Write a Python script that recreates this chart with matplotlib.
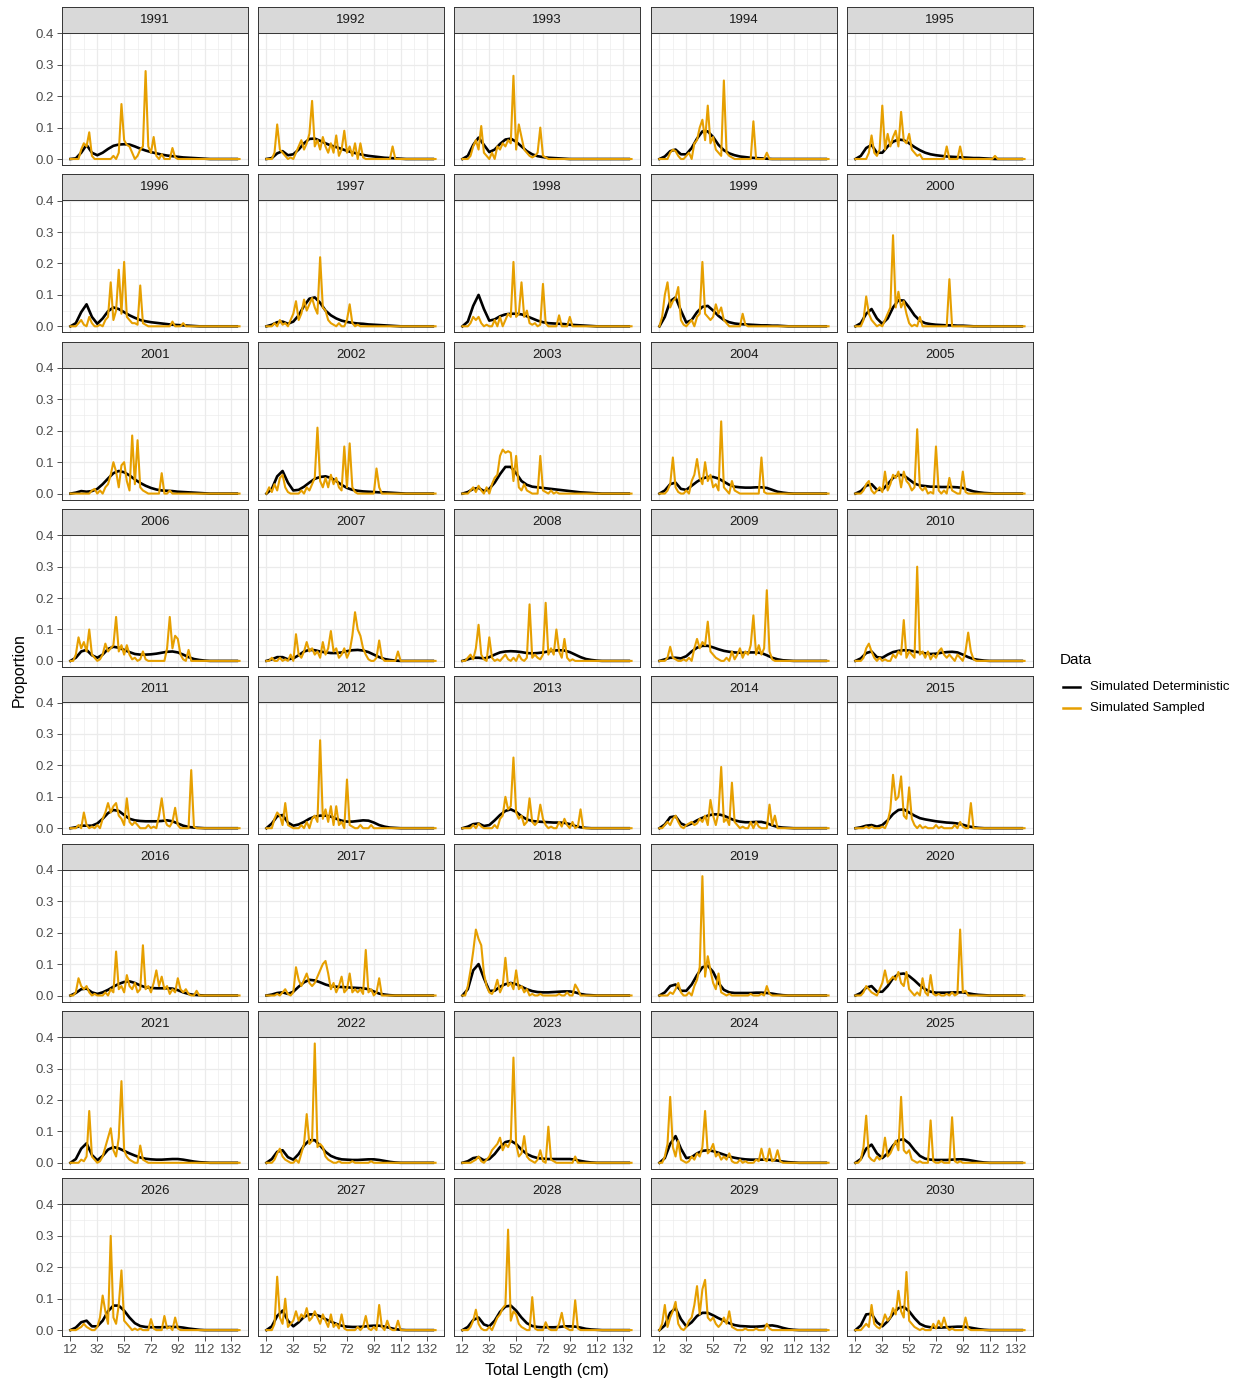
import matplotlib

matplotlib.use("Agg")
import matplotlib.pyplot as plt
from matplotlib.lines import Line2D

plt.rcParams["font.family"] = ["Liberation Sans", "DejaVu Sans"]

YEARS = list(range(1991, 2031))

# deterministic curve, proportion in thousandths on a 4 cm grid from 12 cm
DET_X = list(range(12, 137, 4))
DET = {
    1991: [0, 2, 20, 45, 20, 12, 20, 32, 42, 46, 47, 46, 40, 33, 27, 22, 18, 14, 11, 9, 7, 5, 4, 3, 2, 1],
    1992: [0, 3, 18, 25, 12, 15, 30, 50, 64, 65, 58, 50, 43, 38, 32, 26, 21, 17, 13, 10, 8, 6, 4, 3, 2, 1],
    1993: [0, 10, 45, 68, 45, 22, 30, 48, 62, 65, 55, 40, 25, 15, 9, 6, 4, 3, 2, 1],
    1994: [0, 8, 25, 30, 15, 15, 35, 65, 88, 88, 70, 45, 28, 18, 12, 8, 6, 4, 3, 2, 1],
    1995: [0, 10, 35, 45, 20, 20, 40, 55, 62, 60, 50, 38, 28, 20, 15, 12, 10, 8, 7, 6, 5, 4, 3, 3, 2, 1],
    1996: [0, 10, 45, 70, 30, 8, 25, 48, 60, 55, 45, 35, 27, 20, 16, 13, 11, 9, 7, 5, 4, 3, 2, 1],
    1997: [0, 5, 13, 15, 8, 15, 35, 65, 88, 92, 75, 50, 35, 25, 18, 14, 11, 9, 8, 6, 5, 4, 3, 2, 1],
    1998: [0, 15, 65, 100, 55, 18, 22, 32, 38, 40, 40, 38, 32, 25, 18, 13, 10, 9, 8, 7, 5, 4, 3, 2, 1],
    1999: [0, 30, 80, 92, 50, 12, 20, 45, 62, 65, 50, 33, 20, 13, 9, 7, 6, 5, 4, 3, 3, 2, 2, 1],
    2000: [0, 10, 40, 55, 25, 8, 25, 60, 83, 82, 60, 35, 18, 10, 7, 5, 4, 3, 3, 2, 2, 1],
    2001: [0, 3, 8, 6, 8, 15, 30, 48, 65, 72, 68, 58, 45, 34, 25, 18, 13, 10, 9, 8, 6, 5, 4, 3, 2, 1],
    2002: [0, 15, 55, 72, 35, 10, 12, 22, 35, 47, 53, 55, 50, 40, 28, 18, 12, 9, 7, 6, 5, 4, 4, 3, 2, 1],
    2003: [0, 5, 15, 18, 8, 15, 35, 62, 85, 85, 65, 40, 28, 22, 20, 18, 16, 14, 12, 10, 8, 6, 4, 3, 2, 1],
    2004: [0, 10, 30, 35, 15, 12, 25, 38, 48, 53, 53, 48, 38, 28, 22, 20, 19, 19, 20, 20, 18, 12, 6, 3, 1],
    2005: [0, 8, 25, 30, 12, 12, 30, 50, 60, 58, 45, 32, 26, 24, 22, 22, 21, 21, 21, 20, 18, 12, 7, 4, 2, 1],
    2006: [0, 10, 30, 35, 18, 10, 20, 38, 45, 42, 35, 28, 22, 20, 20, 21, 23, 26, 29, 30, 27, 20, 12, 6, 3, 1],
    2007: [0, 5, 12, 12, 5, 8, 18, 30, 35, 34, 30, 27, 25, 25, 27, 31, 34, 35, 33, 28, 20, 12, 6, 3, 1],
    2008: [0, 5, 10, 10, 8, 12, 20, 27, 30, 31, 30, 28, 25, 24, 25, 27, 30, 33, 34, 33, 28, 20, 12, 6, 3, 1],
    2009: [0, 5, 10, 10, 8, 15, 30, 42, 48, 48, 43, 37, 32, 29, 27, 26, 26, 27, 27, 25, 18, 10, 5, 2, 1],
    2010: [0, 8, 25, 30, 12, 10, 20, 28, 32, 34, 33, 30, 27, 24, 22, 23, 26, 28, 29, 27, 20, 12, 6, 3, 1],
    2011: [0, 3, 8, 8, 8, 15, 30, 48, 58, 55, 42, 30, 25, 23, 22, 22, 22, 23, 25, 22, 15, 8, 4, 2, 1],
    2012: [0, 15, 38, 42, 18, 8, 12, 20, 30, 37, 40, 40, 37, 30, 24, 21, 21, 23, 25, 24, 18, 10, 5, 2, 1],
    2013: [0, 5, 13, 15, 7, 10, 25, 42, 55, 60, 52, 38, 28, 23, 21, 20, 19, 18, 18, 17, 13, 7, 3, 1],
    2014: [0, 12, 35, 38, 15, 8, 15, 25, 33, 40, 44, 44, 40, 32, 25, 21, 19, 19, 20, 20, 16, 9, 4, 2, 1],
    2015: [0, 3, 8, 10, 5, 10, 25, 45, 58, 60, 50, 40, 32, 28, 25, 22, 20, 18, 17, 15, 11, 6, 3, 1],
    2016: [0, 8, 20, 22, 10, 5, 10, 18, 28, 37, 43, 45, 40, 32, 26, 24, 23, 23, 23, 22, 17, 10, 5, 2, 1],
    2017: [0, 3, 8, 10, 5, 12, 28, 42, 50, 48, 42, 35, 30, 28, 27, 26, 25, 24, 23, 20, 13, 6, 3, 1],
    2018: [0, 20, 80, 100, 55, 15, 15, 28, 36, 40, 36, 28, 20, 14, 11, 10, 10, 11, 12, 13, 13, 10, 5, 2, 1],
    2019: [0, 10, 30, 35, 15, 15, 35, 65, 90, 95, 75, 40, 18, 10, 8, 8, 8, 8, 9, 9, 8, 6, 3, 1],
    2020: [0, 8, 25, 30, 12, 12, 30, 55, 68, 70, 62, 48, 32, 20, 12, 9, 9, 9, 10, 10, 10, 7, 4, 2, 1],
    2021: [0, 12, 45, 62, 25, 8, 22, 42, 50, 46, 38, 30, 23, 17, 13, 11, 10, 10, 11, 12, 12, 10, 7, 4, 2, 1],
    2022: [0, 12, 35, 40, 18, 10, 28, 55, 72, 72, 55, 35, 22, 15, 11, 10, 9, 9, 10, 11, 11, 9, 6, 3, 1],
    2023: [0, 5, 15, 18, 8, 12, 28, 50, 66, 70, 60, 42, 28, 20, 15, 13, 12, 12, 12, 12, 12, 10, 6, 3, 1],
    2024: [0, 15, 60, 85, 45, 15, 18, 30, 38, 40, 37, 32, 26, 20, 16, 13, 11, 10, 10, 10, 10, 9, 7, 4, 2, 1],
    2025: [0, 12, 45, 58, 30, 15, 30, 55, 72, 75, 62, 40, 22, 13, 10, 9, 9, 9, 10, 11, 11, 9, 6, 3, 1],
    2026: [0, 8, 25, 30, 12, 12, 30, 60, 78, 78, 62, 40, 22, 13, 10, 9, 9, 9, 10, 10, 10, 8, 5, 3, 1],
    2027: [0, 12, 45, 62, 30, 12, 25, 42, 50, 50, 44, 35, 27, 20, 14, 11, 10, 10, 11, 13, 14, 14, 11, 7, 3, 1],
    2028: [0, 10, 32, 40, 18, 12, 30, 58, 75, 78, 62, 40, 22, 13, 10, 9, 9, 9, 10, 12, 12, 11, 8, 4, 2, 1],
    2029: [0, 15, 55, 70, 35, 12, 25, 45, 55, 55, 47, 38, 30, 22, 16, 13, 12, 11, 11, 12, 14, 15, 12, 7, 3, 1],
    2030: [0, 15, 50, 52, 25, 12, 28, 52, 70, 74, 60, 38, 20, 12, 9, 8, 8, 9, 10, 11, 11, 9, 6, 3, 1],
}

# sampled proportions (thousandths) per 2 cm bin; bins not listed are empty
SAMP_X = list(range(12, 139, 2))
SAMP = {
    1991: {20: 30, 22: 50, 24: 40, 26: 85, 28: 10, 44: 10, 48: 20, 50: 175, 52: 60, 54: 45, 56: 40, 58: 20,
           62: 10, 64: 30, 66: 40, 68: 280, 70: 40, 72: 20, 74: 70, 76: 10, 80: 15, 88: 35, 90: 5},
    1992: {18: 20, 20: 110, 22: 30, 24: 20, 26: 10, 30: 5, 34: 20, 36: 40, 38: 60, 40: 30, 42: 50, 44: 80,
           46: 185, 48: 40, 50: 60, 52: 30, 54: 70, 56: 40, 58: 20, 60: 50, 62: 20, 64: 75, 66: 10, 68: 30,
           70: 90, 72: 20, 74: 40, 76: 10, 78: 50, 82: 50, 84: 5, 106: 40},
    1993: {18: 10, 20: 40, 22: 60, 24: 30, 26: 105, 28: 20, 30: 10, 34: 20, 38: 40, 40: 30, 42: 50, 44: 40,
           46: 60, 48: 50, 50: 265, 52: 30, 54: 110, 56: 70, 58: 30, 60: 20, 62: 10, 64: 5, 66: 10, 68: 20,
           70: 100, 72: 10, 74: 5},
    1994: {20: 20, 22: 30, 24: 25, 26: 10, 32: 10, 34: 20, 38: 50, 40: 60, 42: 100, 44: 125, 46: 60,
           48: 170, 50: 50, 52: 70, 54: 30, 56: 20, 58: 10, 60: 250, 62: 20, 64: 10, 66: 5, 82: 120, 92: 20},
    1995: {22: 20, 24: 75, 26: 20, 28: 10, 30: 30, 32: 170, 34: 30, 36: 80, 38: 40, 40: 70, 42: 90, 44: 40,
           46: 150, 48: 60, 50: 50, 52: 80, 54: 30, 56: 20, 58: 10, 60: 15, 80: 40, 90: 40, 116: 10},
    1996: {18: 10, 20: 20, 22: 5, 26: 30, 28: 10, 34: 5, 38: 20, 40: 30, 42: 140, 44: 20, 46: 50, 48: 180,
           50: 40, 52: 205, 54: 30, 56: 20, 58: 10, 60: 10, 62: 5, 64: 130, 66: 10, 68: 5, 88: 15, 96: 10},
    1997: {18: 10, 22: 20, 24: 5, 26: 10, 30: 20, 32: 40, 34: 80, 36: 20, 38: 40, 40: 85, 42: 50, 44: 70,
           46: 90, 48: 60, 50: 40, 52: 220, 54: 60, 56: 50, 58: 20, 60: 10, 62: 5, 66: 10, 72: 20, 74: 70,
           76: 10, 80: 5},
    1998: {18: 10, 20: 30, 22: 20, 24: 30, 26: 10, 30: 5, 36: 20, 40: 30, 44: 20, 46: 40, 48: 30, 50: 205,
           52: 30, 54: 40, 56: 140, 58: 30, 60: 50, 62: 10, 64: 5, 66: 10, 70: 5, 72: 135, 74: 10, 84: 35,
           92: 30},
    1999: {14: 30, 16: 100, 18: 140, 20: 60, 22: 80, 24: 90, 26: 125, 28: 20, 30: 5, 34: 10, 36: 20, 40: 30,
           42: 40, 44: 205, 46: 40, 48: 30, 50: 20, 52: 30, 54: 70, 56: 40, 58: 60, 60: 20, 62: 10, 74: 40,
           76: 5},
    2000: {18: 20, 20: 95, 22: 40, 24: 20, 26: 10, 30: 5, 34: 20, 36: 40, 38: 60, 40: 290, 42: 60, 44: 110,
           46: 60, 48: 80, 50: 40, 52: 10, 56: 5, 60: 30, 82: 150},
    2001: {28: 10, 30: 15, 34: 10, 38: 20, 40: 30, 42: 60, 44: 100, 46: 70, 48: 20, 50: 90, 52: 100, 54: 40,
           56: 10, 58: 185, 60: 30, 62: 170, 64: 20, 66: 10, 68: 5, 80: 65, 86: 10},
    2002: {14: 20, 16: 5, 18: 30, 20: 10, 22: 50, 24: 60, 26: 20, 28: 5, 38: 10, 42: 20, 44: 10, 46: 30,
           48: 50, 50: 210, 52: 40, 54: 20, 56: 50, 58: 20, 60: 60, 62: 30, 64: 50, 66: 20, 68: 10, 70: 150,
           72: 20, 74: 160, 76: 20, 78: 5, 94: 80, 96: 20},
    2003: {18: 10, 20: 20, 22: 5, 24: 25, 26: 10, 30: 20, 34: 30, 36: 50, 38: 60, 40: 120, 42: 140, 44: 130,
           46: 135, 48: 130, 50: 40, 52: 120, 54: 20, 56: 10, 58: 30, 60: 10, 62: 5, 70: 120, 72: 10, 74: 5,
           78: 10, 82: 5},
    2004: {18: 10, 20: 30, 22: 115, 24: 20, 26: 5, 32: 10, 36: 40, 38: 60, 40: 110, 42: 50, 44: 30, 46: 100,
           48: 40, 50: 60, 52: 20, 54: 30, 56: 10, 58: 230, 60: 20, 62: 10, 66: 40, 68: 10, 70: 5, 88: 115,
           90: 5},
    2005: {18: 10, 20: 30, 22: 40, 24: 10, 28: 10, 30: 20, 32: 5, 34: 70, 36: 10, 38: 30, 40: 60, 42: 50,
           44: 70, 46: 20, 48: 70, 50: 40, 52: 30, 54: 10, 56: 20, 58: 205, 60: 20, 62: 10, 64: 20, 68: 5,
           72: 150, 74: 10, 78: 10, 82: 50, 84: 10, 86: 5, 92: 70, 94: 5},
    2006: {16: 20, 18: 75, 20: 40, 22: 60, 24: 30, 26: 100, 28: 20, 30: 10, 34: 5, 36: 20, 38: 55, 40: 30,
           42: 40, 44: 50, 46: 140, 48: 30, 50: 50, 52: 20, 54: 50, 56: 20, 58: 5, 60: 10, 64: 5, 66: 30,
           68: 5, 84: 40, 86: 140, 88: 40, 90: 80, 92: 70, 94: 20, 96: 5, 100: 35},
    2007: {16: 10, 22: 10, 26: 5, 30: 20, 34: 85, 36: 20, 38: 10, 40: 30, 42: 60, 44: 30, 46: 40, 48: 20,
           50: 30, 52: 10, 54: 60, 56: 20, 58: 40, 60: 95, 62: 30, 64: 40, 66: 10, 68: 20, 70: 40, 72: 10,
           74: 30, 76: 80, 78: 155, 80: 100, 82: 80, 84: 40, 86: 20, 88: 5, 94: 10, 96: 65, 98: 10, 110: 30},
    2008: {16: 10, 18: 20, 20: 5, 22: 40, 24: 115, 26: 20, 28: 5, 32: 75, 34: 10, 38: 5, 42: 10, 44: 20,
           46: 5, 50: 10, 54: 20, 56: 5, 60: 10, 62: 180, 64: 10, 66: 20, 68: 10, 70: 5, 72: 20, 74: 185,
           76: 20, 78: 40, 80: 20, 82: 100, 84: 30, 86: 10, 88: 70, 90: 10, 94: 5},
    2009: {18: 10, 20: 45, 22: 10, 24: 5, 30: 5, 34: 10, 38: 40, 40: 70, 42: 40, 44: 60, 46: 50, 48: 125,
           50: 30, 52: 20, 54: 10, 56: 5, 62: 10, 66: 30, 68: 5, 70: 20, 72: 40, 74: 10, 76: 30, 78: 20,
           80: 50, 82: 145, 84: 20, 86: 50, 88: 20, 90: 40, 92: 225, 94: 30, 96: 5},
    2010: {18: 10, 20: 40, 22: 55, 24: 30, 26: 10, 30: 10, 34: 5, 40: 20, 42: 10, 44: 30, 46: 20, 48: 130,
           50: 10, 52: 30, 54: 20, 56: 10, 58: 300, 60: 20, 62: 30, 64: 10, 66: 30, 68: 5, 70: 20, 72: 10,
           74: 30, 76: 40, 78: 20, 80: 10, 82: 20, 84: 10, 88: 20, 90: 10, 94: 30, 96: 90, 98: 30, 100: 5},
    2011: {18: 10, 22: 50, 24: 10, 28: 5, 32: 10, 36: 30, 38: 50, 40: 80, 42: 50, 44: 70, 46: 80, 48: 40,
           50: 30, 52: 10, 54: 95, 56: 20, 58: 10, 60: 20, 62: 10, 70: 10, 74: 5, 78: 40, 80: 95, 82: 30,
           84: 10, 86: 5, 88: 20, 90: 65, 92: 10, 102: 185, 104: 5},
    2012: {18: 30, 20: 50, 22: 40, 24: 10, 26: 80, 28: 10, 30: 5, 38: 10, 42: 20, 46: 30, 48: 40, 50: 20,
           52: 280, 54: 30, 56: 60, 58: 20, 60: 70, 62: 10, 64: 70, 66: 10, 68: 20, 72: 155, 74: 10, 76: 5,
           82: 10, 90: 10},
    2013: {20: 10, 24: 15, 26: 5, 36: 10, 40: 30, 42: 40, 44: 100, 46: 60, 48: 70, 50: 225, 52: 50, 54: 30,
           56: 40, 58: 10, 60: 20, 62: 95, 64: 20, 66: 10, 68: 20, 70: 75, 72: 30, 74: 10, 78: 5, 84: 20,
           86: 5, 88: 30, 90: 10, 94: 20, 98: 5, 100: 60},
    2014: {16: 10, 18: 20, 20: 10, 22: 30, 24: 40, 26: 20, 28: 5, 32: 10, 34: 15, 36: 20, 38: 10, 40: 15,
           42: 30, 44: 20, 46: 40, 48: 10, 50: 90, 52: 40, 54: 10, 56: 50, 58: 195, 60: 20, 62: 30, 64: 10,
           66: 145, 68: 20, 70: 10, 74: 5, 80: 20, 84: 20, 86: 5, 94: 75, 96: 10, 98: 40},
    2015: {20: 5, 24: 5, 32: 5, 36: 20, 38: 60, 40: 170, 42: 90, 44: 100, 46: 165, 48: 40, 50: 30, 52: 130,
           54: 30, 56: 10, 60: 10, 64: 5, 72: 10, 76: 5, 86: 10, 90: 20, 92: 5, 98: 80},
    2016: {16: 10, 18: 55, 20: 30, 22: 20, 24: 30, 26: 10, 30: 5, 38: 10, 42: 20, 44: 10, 46: 140, 48: 20,
           50: 30, 52: 10, 54: 65, 56: 30, 58: 20, 60: 40, 62: 10, 64: 20, 66: 160, 68: 20, 70: 30, 72: 10,
           74: 40, 76: 80, 78: 30, 80: 60, 82: 20, 84: 30, 86: 5, 88: 20, 90: 10, 92: 55, 94: 20, 96: 10,
           98: 20, 100: 5, 106: 15},
    2017: {20: 5, 24: 10, 26: 20, 28: 5, 32: 10, 34: 90, 36: 50, 38: 30, 40: 50, 42: 70, 44: 40, 46: 30,
           48: 40, 50: 60, 52: 80, 54: 100, 56: 110, 58: 70, 60: 20, 62: 40, 64: 10, 66: 30, 68: 60, 70: 10,
           72: 20, 74: 70, 76: 10, 78: 20, 80: 10, 82: 20, 84: 5, 86: 145, 88: 10, 90: 20, 94: 10, 96: 55},
    2018: {16: 30, 18: 80, 20: 140, 22: 210, 24: 180, 26: 160, 28: 70, 30: 30, 32: 10, 34: 5, 36: 20,
           38: 50, 40: 10, 42: 30, 44: 120, 46: 30, 48: 40, 50: 20, 52: 80, 54: 20, 56: 30, 58: 10, 60: 20,
           64: 5, 70: 5, 84: 5, 90: 10, 96: 35, 98: 20},
    2019: {20: 10, 22: 5, 24: 20, 26: 40, 28: 10, 34: 10, 38: 30, 40: 50, 42: 90, 44: 380, 46: 60, 48: 125,
           50: 80, 52: 40, 54: 20, 56: 70, 58: 10, 60: 5, 64: 5, 80: 5, 88: 5, 92: 30, 94: 5},
    2020: {18: 10, 20: 30, 22: 20, 24: 10, 26: 5, 30: 20, 32: 40, 34: 80, 36: 40, 38: 50, 40: 60, 42: 50,
           44: 75, 46: 40, 48: 30, 50: 75, 52: 20, 54: 10, 58: 10, 62: 55, 64: 10, 68: 65, 70: 5, 74: 5,
           80: 5, 84: 10, 88: 5, 90: 210, 92: 10, 94: 15},
    2021: {20: 10, 22: 5, 24: 20, 26: 165, 28: 20, 30: 10, 34: 5, 36: 20, 38: 50, 40: 80, 42: 110, 44: 40,
           46: 20, 48: 80, 50: 260, 52: 40, 54: 20, 56: 10, 58: 5, 64: 55, 66: 10, 68: 5},
    2022: {18: 10, 20: 30, 22: 45, 24: 20, 26: 10, 28: 5, 34: 10, 38: 30, 40: 60, 42: 155, 44: 60, 46: 70,
           48: 380, 50: 50, 52: 60, 54: 50, 56: 20, 58: 10, 60: 5, 66: 5, 76: 5, 90: 5},
    2023: {20: 5, 22: 10, 24: 20, 26: 5, 30: 10, 32: 20, 34: 40, 36: 50, 38: 60, 40: 80, 42: 40, 44: 60,
           46: 50, 48: 70, 50: 335, 52: 60, 54: 20, 56: 30, 58: 85, 60: 20, 62: 10, 64: 5, 68: 10, 70: 40,
           72: 5, 76: 115, 78: 10, 80: 5, 96: 20},
    2024: {16: 20, 18: 60, 20: 210, 22: 50, 24: 20, 26: 70, 28: 10, 30: 5, 34: 5, 36: 20, 38: 10, 40: 30,
           42: 20, 44: 50, 46: 165, 48: 30, 50: 40, 52: 60, 54: 20, 56: 30, 58: 10, 60: 20, 62: 10, 64: 30,
           66: 5, 72: 10, 76: 5, 84: 10, 86: 5, 88: 45, 90: 10, 92: 5, 94: 45, 96: 5, 98: 10, 100: 40,
           102: 5},
    2025: {16: 10, 18: 50, 20: 150, 22: 20, 24: 10, 26: 5, 28: 20, 30: 10, 32: 20, 34: 80, 36: 20, 38: 30,
           40: 50, 42: 70, 44: 40, 46: 210, 48: 40, 50: 30, 52: 40, 54: 10, 56: 5, 60: 5, 68: 135, 70: 5,
           76: 5, 84: 145, 86: 5, 90: 5},
    2026: {18: 5, 20: 10, 22: 20, 24: 10, 26: 5, 32: 10, 34: 40, 36: 110, 38: 60, 40: 20, 42: 300, 44: 40,
           46: 20, 48: 80, 50: 190, 52: 30, 54: 20, 56: 10, 60: 5, 64: 5, 72: 35, 74: 5, 82: 45, 84: 5,
           86: 10, 90: 40, 92: 5},
    2027: {18: 20, 20: 170, 22: 40, 24: 20, 26: 100, 28: 10, 30: 20, 32: 30, 34: 60, 36: 30, 38: 50, 40: 40,
           42: 70, 44: 30, 46: 40, 48: 60, 50: 40, 52: 20, 54: 50, 56: 30, 58: 10, 60: 50, 62: 10, 64: 20,
           66: 5, 68: 50, 70: 5, 80: 10, 84: 10, 86: 45, 88: 5, 92: 10, 96: 80, 98: 10, 102: 30, 104: 5,
           110: 30},
    2028: {18: 10, 20: 30, 22: 65, 24: 20, 26: 5, 32: 10, 36: 20, 38: 40, 40: 50, 42: 70, 44: 80, 46: 320,
           48: 30, 50: 60, 52: 50, 54: 20, 56: 10, 58: 5, 64: 105, 66: 5, 74: 25, 76: 5, 84: 20, 86: 55,
           88: 10, 90: 5, 96: 95, 98: 5},
    2029: {14: 20, 16: 80, 18: 10, 20: 40, 22: 60, 24: 90, 26: 20, 28: 5, 32: 10, 34: 30, 36: 40, 38: 80,
           40: 140, 42: 50, 44: 130, 46: 160, 48: 40, 50: 30, 52: 40, 54: 20, 56: 10, 58: 20, 60: 40, 62: 20,
           64: 60, 66: 10, 68: 5, 76: 5, 84: 5, 92: 20, 94: 5},
    2030: {18: 10, 20: 20, 22: 10, 24: 80, 26: 20, 28: 10, 30: 5, 32: 20, 34: 50, 36: 30, 38: 40, 40: 70,
           42: 50, 44: 125, 46: 60, 48: 40, 50: 185, 52: 30, 54: 20, 56: 10, 58: 5, 62: 5, 70: 20, 72: 5,
           74: 30, 76: 10, 78: 40, 80: 10, 84: 5, 94: 40, 96: 5},
}

X_TICKS = [12, 32, 52, 72, 92, 112, 132]
Y_TICKS = [0.0, 0.1, 0.2, 0.3, 0.4]

BLACK = "#000000"
ORANGE = "#E69F00"
FRAME = "#333333"
GRID = "#EBEBEB"

W, H = 1245, 1381
NCOL, NROW = 5, 8
COL_X = [62, 258, 454, 651, 847]
PANEL_W = 186
ROW_PITCH = 167.3
STRIP_TOP0 = 7
STRIP_H = 26
PANEL_H = 132

fig = plt.figure(figsize=(W / 100, H / 100), dpi=100)
fig.patch.set_facecolor("white")


def frac_box(x, y, w, h):
    return [x / W, 1 - (y + h) / H, w / W, h / H]


for i, year in enumerate(YEARS):
    r, c = divmod(i, NCOL)
    x0 = COL_X[c]
    s_top = STRIP_TOP0 + r * ROW_PITCH

    sax = fig.add_axes(frac_box(x0, s_top, PANEL_W, STRIP_H))
    sax.set_facecolor("#D9D9D9")
    sax.set_xticks([])
    sax.set_yticks([])
    for sp in sax.spines.values():
        sp.set_color(FRAME)
        sp.set_linewidth(0.7)
    sax.text(0.5, 0.5, str(year), ha="center", va="center", fontsize=9.5, color="#1A1A1A",
             transform=sax.transAxes)

    ax = fig.add_axes(frac_box(x0, s_top + STRIP_H, PANEL_W, PANEL_H))
    det = [v / 1000 for v in DET[year]]
    det = det + [0.0] * (len(DET_X) - len(det))
    samp = [SAMP[year].get(x, 0) / 1000 for x in SAMP_X]
    ax.plot(DET_X, det, color=BLACK, lw=1.9, solid_joinstyle="round", zorder=3)
    ax.plot(SAMP_X, samp, color=ORANGE, lw=1.5, solid_joinstyle="round", zorder=4)

    ax.set_xlim(5.7, 144.3)
    ax.set_ylim(-0.0191, 0.4012)
    ax.set_xticks(X_TICKS)
    ax.set_xticks([22, 42, 62, 82, 102, 122], minor=True)
    ax.set_yticks(Y_TICKS)
    ax.set_yticks([0.05, 0.15, 0.25, 0.35], minor=True)
    ax.grid(True, which="major", color=GRID, lw=0.9, zorder=0)
    ax.grid(True, which="minor", color=GRID, lw=0.45, zorder=0)
    ax.set_axisbelow(True)
    for sp in ax.spines.values():
        sp.set_color(FRAME)
        sp.set_linewidth(0.7)
    ax.tick_params(which="minor", length=0)
    ax.tick_params(which="major", length=3.5, width=0.6, color=FRAME, labelsize=9.5,
                   labelcolor="#4D4D4D", pad=2)
    if c == 0:
        ax.set_yticklabels([f"{v:.1f}" for v in Y_TICKS])
    else:
        ax.tick_params(axis="y", length=0, labelleft=False)
    if r == NROW - 1:
        ax.set_xticklabels([str(v) for v in X_TICKS])
    else:
        ax.tick_params(axis="x", length=0, labelbottom=False)

fig.text(547 / W, 1 - 1370 / H, "Total Length (cm)", ha="center", va="center", fontsize=11.5,
         color="black")
fig.text(19 / W, 1 - 670 / H, "Proportion", ha="center", va="center", rotation=90, fontsize=11.5,
         color="black")

# legend
fig.text(1060 / W, 1 - 660 / H, "Data", ha="left", va="center", fontsize=11, color="black")
for yy, col, lab in [(687, BLACK, "Simulated Deterministic"), (708, ORANGE, "Simulated Sampled")]:
    fig.add_artist(Line2D([1063 / W, 1080 / W], [1 - yy / H, 1 - yy / H], color=col, lw=1.8,
                          transform=fig.transFigure))
    fig.text(1090 / W, 1 - yy / H, lab, ha="left", va="center", fontsize=9.5, color="black")

fig.savefig("out.png", dpi=100)
